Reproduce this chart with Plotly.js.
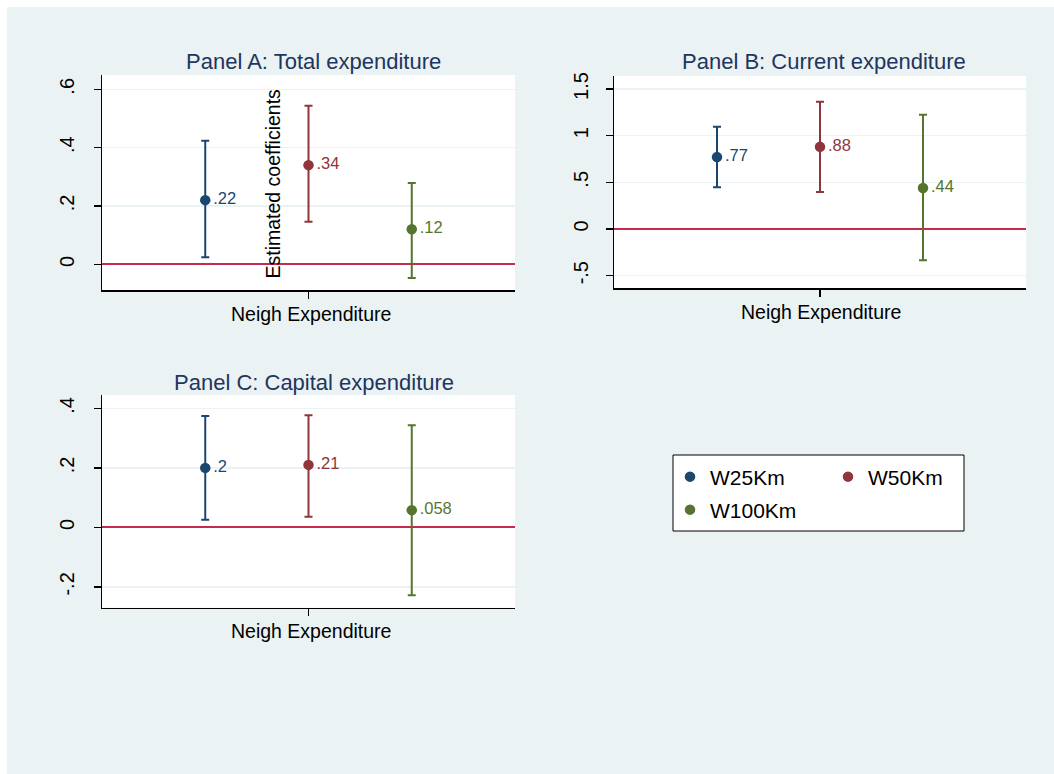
<!DOCTYPE html>
<html><head><meta charset="utf-8">
<script src="https://cdn.plot.ly/plotly-3.0.1.min.js"></script>
<style>html,body{margin:0;padding:0;background:#fff}</style>
</head><body><div id="chart" style="width:1054px;height:774px"></div>
<script>
// ---- data ----
const seriesNames = ['W25Km', 'W50Km', 'W100Km'];
const seriesColors = ['#1a476f', '#90353b', '#55752f'];
const slotIndex = [1, 2, 3];
const categoryLabel = 'Neigh Expenditure';
const yTitle = 'Estimated coefficients';
const panelTitles = ['Panel A: Total expenditure', 'Panel B: Current expenditure', 'Panel C: Capital expenditure'];

const coefA = [0.22, 0.34, 0.12];
const upperA = [0.424, 0.544, 0.279];
const lowerA = [0.024, 0.146, -0.047];

const coefB = [0.77, 0.88, 0.44];
const upperB = [1.096, 1.364, 1.225];
const lowerB = [0.446, 0.396, -0.336];

const coefC = [0.2, 0.21, 0.058];
const upperC = [0.374, 0.377, 0.343];
const lowerC = [0.026, 0.036, -0.228];

const tickValsA = [0, 0.2, 0.4, 0.6];
const tickTextA = ['0', '.2', '.4', '.6'];
const tickValsB = [-0.5, 0, 0.5, 1, 1.5];
const tickTextB = ['-.5', '0', '.5', '1', '1.5'];
const tickValsC = [-0.2, 0, 0.2, 0.4];
const tickTextC = ['-.2', '0', '.2', '.4'];

// ---- helpers ----
const W = 1054, H = 774;
const px = x => x / W;
const py = y => 1 - y / H;
const FONT = 'Liberation Sans, Arial, sans-serif';
const fmt = v => '\u00a0\u2009' + String(v).replace(/^0\./, '.').replace(/^-0\./, '-.');

const panels = [
  {coef: coefA, up: upperA, lo: lowerA, xa: 'x', ya: 'y'},
  {coef: coefB, up: upperB, lo: lowerB, xa: 'x2', ya: 'y2'},
  {coef: coefC, up: upperC, lo: lowerC, xa: 'x3', ya: 'y3'}
];
const legendIds = ['legend', 'legend2', 'legend3'];

const traces = [];
panels.forEach((p, pi) => {
  seriesNames.forEach((name, si) => {
    traces.push({
      type: 'scatter', mode: 'markers',
      x: [slotIndex[si]], y: [p.coef[si]],
      xaxis: p.xa, yaxis: p.ya,
      name: name, showlegend: pi === 0, legend: legendIds[si],
      marker: {color: seriesColors[si], size: 10.5},
      error_y: {type: 'data', symmetric: false,
        array: [p.up[si] - p.coef[si]], arrayminus: [p.coef[si] - p.lo[si]],
        color: seriesColors[si], thickness: 2, width: 4},
      hoverinfo: 'skip'
    });
  });
  traces.push({
    type: 'scatter', mode: 'text',
    x: slotIndex, y: p.coef, xaxis: p.xa, yaxis: p.ya,
    text: p.coef.map(fmt), textposition: 'middle right',
    textfont: {family: FONT, size: 16.5, color: seriesColors},
    showlegend: false, hoverinfo: 'skip'
  });
});

function xax(domain, anchor) {
  return {domain: domain, anchor: anchor, range: [0, 4], tickvals: [2], ticktext: [''],
    ticks: 'outside', ticklen: 7, tickwidth: 1.5, tickcolor: '#000',
    showline: true, linecolor: '#000', linewidth: 1.5, showgrid: false, zeroline: false,
    fixedrange: true};
}
function yax(domain, anchor, range, tv, tt, standoff) {
  return {domain: domain, anchor: anchor, range: range, tickvals: tv, ticktext: tt,
    tickangle: -90, ticks: 'outside', ticklen: 7, tickwidth: 1.5, tickcolor: '#000',
    tickfont: {family: FONT, size: 20, color: '#000'}, ticklabelstandoff: standoff,
    showline: true, linecolor: '#000', linewidth: 1.5,
    showgrid: true, gridcolor: '#eaf2f3', gridwidth: 1.5,
    zeroline: true, zerolinecolor: '#c62a4e', zerolinewidth: 2, fixedrange: true};
}

const titleFont = {family: FONT, size: 22, color: '#1e3560'};
const axFont = {family: FONT, size: 19.5, color: '#000'};
const legFont = {family: FONT, size: 21, color: '#000'};
function leg(x, y) {
  return {orientation: 'v', x: px(x), y: py(y), xanchor: 'left', yanchor: 'top',
    bgcolor: 'rgba(0,0,0,0)', borderwidth: 0, font: legFont,
    itemclick: false, itemdoubleclick: false};
}

const layout = {
  width: W, height: H,
  margin: {l: 0, r: 0, t: 0, b: 0, pad: 0},
  paper_bgcolor: '#eaf2f3', plot_bgcolor: '#ffffff',
  font: {family: FONT},
  showlegend: true,
  xaxis: xax([px(102), px(515)], 'y'),
  yaxis: yax([py(290), py(75)], 'x', [-0.088, 0.649], tickValsA, tickTextA, 12),
  xaxis2: xax([px(614), px(1026)], 'y2'),
  yaxis2: yax([py(288), py(76)], 'x2', [-0.632, 1.639], tickValsB, tickTextB, 10),
  xaxis3: xax([px(102), px(515)], 'y3'),
  yaxis3: yax([py(607.7), py(395)], 'x3', [-0.270, 0.445], tickValsC, tickTextC, 12),
  legend: leg(670, 456.5),
  legend2: leg(828, 456.5),
  legend3: leg(670, 489.5),
  shapes: [
    {type: 'rect', xref: 'paper', yref: 'paper', x0: 0, x1: 1, y0: py(7), y1: 1,
      fillcolor: '#ffffff', line: {width: 0}},
    {type: 'rect', xref: 'paper', yref: 'paper', x0: 0, x1: px(7), y0: 0, y1: 1,
      fillcolor: '#ffffff', line: {width: 0}},
    {type: 'rect', xref: 'paper', yref: 'paper', x0: px(673), x1: px(964), y0: py(531), y1: py(455),
      fillcolor: '#ffffff', line: {color: '#000', width: 1}, layer: 'below'}
  ],
  annotations: [
    {text: panelTitles[0], x: px(313), y: py(62), xref: 'paper', yref: 'paper', xanchor: 'center', yanchor: 'middle', showarrow: false, font: titleFont},
    {text: panelTitles[1], x: px(824), y: py(62), xref: 'paper', yref: 'paper', xanchor: 'center', yanchor: 'middle', showarrow: false, font: titleFont},
    {text: panelTitles[2], x: px(314), y: py(382), xref: 'paper', yref: 'paper', xanchor: 'center', yanchor: 'middle', showarrow: false, font: titleFont},
    {text: categoryLabel, x: px(310.5), y: py(314.3), xref: 'paper', yref: 'paper', xanchor: 'center', yanchor: 'middle', showarrow: false, font: axFont},
    {text: categoryLabel, x: px(821.3), y: py(311.5), xref: 'paper', yref: 'paper', xanchor: 'center', yanchor: 'middle', showarrow: false, font: axFont},
    {text: categoryLabel, x: px(310.5), y: py(631), xref: 'paper', yref: 'paper', xanchor: 'center', yanchor: 'middle', showarrow: false, font: axFont},
    {text: yTitle, textangle: -90, x: px(272), y: py(183.5), xref: 'paper', yref: 'paper', xanchor: 'center', yanchor: 'middle', showarrow: false, font: axFont}
  ]
};

Plotly.newPlot('chart', traces, layout, {displayModeBar: false, staticPlot: true});
</script>
</body></html>
